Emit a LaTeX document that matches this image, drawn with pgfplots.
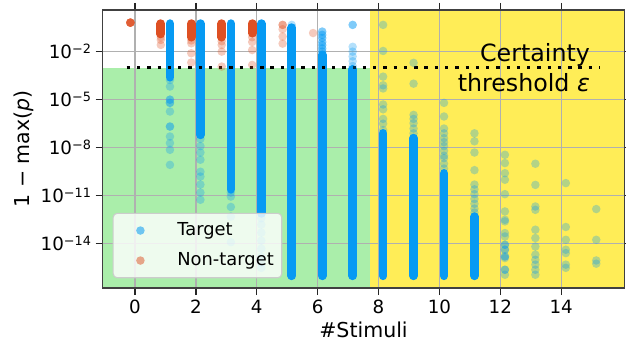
\documentclass[border=0pt]{standalone}
\usepackage{fontspec}
\setmainfont{DejaVu Sans}
\usepackage{pgfplots}
\pgfplotsset{compat=1.18}
\definecolor{azure}{RGB}{6,154,243}
\definecolor{ntorange}{RGB}{222,80,35}
\definecolor{bggreen}{RGB}{170,238,170}
\definecolor{bgyellow}{RGB}{255,237,87}
\definecolor{gridgray}{RGB}{176,176,176}
\newcommand{\tp}[1]{10\raisebox{3.75pt}{\fontsize{9.6}{11}\selectfont −#1}}
\begin{document}
\begin{tikzpicture}
\begin{axis}[
  set layers,
  width=391.2pt, height=208.5pt, scale only axis,
  xmin=-1.06, xmax=16.07,
  ymode=log, ymin=1.74e-17, ymax=3.98,
  xtick={0,2,4,6,8,10,12,14}, xticklabels={0,2,4,6,8,10,12,14},
  ytick={1e-14,1e-11,1e-8,1e-5,1e-2},
  yticklabels={\tp{14},\tp{11},\tp{8},\tp{5},\tp{2}},
  minor y tick num=0,
  grid=major, major grid style={gridgray, line width=1pt},
  tick align=outside, major tick length=5.25pt,
  tick style={black!85, line width=1pt},
  axis line style={black!75, line width=1.1pt},
  ticklabel style={font=\fontsize{13.7}{16}\selectfont},
  every axis x label/.style={at={(axis description cs:0.5,0)}, anchor=center, yshift=-31.5pt, font=\fontsize{15.4}{18}\selectfont},
  every axis y label/.style={at={(axis description cs:0,0.5)}, anchor=center, xshift=-59pt, rotate=90, font=\fontsize{15.4}{18}\selectfont},
  xlabel={\#Stimuli},
  ylabel={1 − max(\textit{p})},
  legend image code/.code={\path (-14pt,0pt) (27.3pt,0pt); \draw[#1] plot coordinates {(0pt,0pt)};},
  legend style={at={(axis description cs:0.0192,0.035)}, anchor=south west,
    draw=black!20, line width=0.8pt, fill=white, fill opacity=0.8, text opacity=1,
    rounded corners=3pt, font=\fontsize{13.4}{16}\selectfont,
    inner xsep=6pt, inner ysep=6.4pt,
    nodes={inner sep=0pt, text height=10pt, text depth=3pt},
    row sep=9.5pt},
  legend cell align=left,
]
% background regions
\addplot[draw=none, fill=bggreen, on layer=axis background, forget plot]
  coordinates {(-1.06,1.74e-17) (7.72,1.74e-17) (7.72,1e-3) (-1.06,1e-3)} -- cycle;
\addplot[draw=none, fill=bgyellow, on layer=axis background, forget plot]
  coordinates {(7.72,1.74e-17) (16.07,1.74e-17) (16.07,3.98) (7.72,3.98)} -- cycle;

\addlegendimage{only marks, mark=*, mark size=3.2pt, azure, mark options={draw opacity=0, fill=azure, fill opacity=0.55}}
\addlegendentry{Target}
\addlegendimage{only marks, mark=*, mark size=3.2pt, ntorange, mark options={draw opacity=0, fill=ntorange, fill opacity=0.5}}
\addlegendentry{Non-target\hspace{4pt}}

% dense stacks of target points
\pgfplotsset{tstack/.style={azure, line width=6.5pt, line cap=round, forget plot}}
\addplot[tstack] coordinates {(1.15,5.62e-1) (1.15,2.51e-4)};
\addplot[tstack] coordinates {(2.15,5.62e-1) (2.15,6.31e-8)};
\addplot[tstack] coordinates {(3.15,5.62e-1) (3.15,2.51e-11)};
\addplot[tstack] coordinates {(4.15,5.62e-1) (4.15,7.94e-13)};
\addplot[tstack] coordinates {(5.15,3.16e-1) (5.15,1e-16)};
\addplot[tstack] coordinates {(6.15,6.31e-3) (6.15,1e-16)};
\addplot[tstack] coordinates {(7.15,7.94e-4) (7.15,1e-16)};
\addplot[tstack] coordinates {(8.15,7.94e-8) (8.15,1e-16)};
\addplot[tstack] coordinates {(9.15,3.98e-8) (9.15,1e-16)};
\addplot[tstack] coordinates {(10.15,2.51e-10) (10.15,1e-16)};
\addplot[tstack] coordinates {(11.15,5.01e-13) (11.15,1e-16)};

% dense stacks of non-target points
\pgfplotsset{nstack/.style={ntorange, line width=6.5pt, line cap=round, forget plot}}
\addplot[nstack] coordinates {(0.85,5.62e-1) (0.85,1.26e-1)};
\addplot[nstack] coordinates {(1.85,5.62e-1) (1.85,7.94e-2)};
\addplot[nstack] coordinates {(2.85,5.62e-1) (2.85,7.94e-2)};
\addplot[nstack] coordinates {(3.85,5.62e-1) (3.85,1.41e-1)};

% sparse target points
\addplot[only marks, mark=*, mark size=3.2pt, azure, mark options={draw opacity=0, fill=azure, fill opacity=0.3}, forget plot] coordinates {
(1.15,1.7e-4) (1.15,6.6e-5) (1.15,1e-5) (1.15,1e-5) (1.15,6.31e-6) (1.15,6.31e-6) (1.15,1.82e-6)
(1.15,2.1e-7) (1.15,2.1e-7) (1.15,5.01e-8) (1.15,1.95e-8) (1.15,7.4e-9) (1.15,8.5e-10)
(2.15,3.55e-8) (2.15,1.26e-8) (2.15,5.01e-9) (2.15,1.78e-9) (2.15,3.16e-10) (2.15,1.58e-10)
(2.15,5.01e-11) (2.15,1.58e-11) (2.15,5.62e-12)
(3.15,1.58e-11) (3.15,8.91e-12) (3.15,2.0e-12) (3.15,5.01e-13) (3.15,1.26e-14)
(4.15,3.98e-13) (4.15,1.58e-13) (4.15,5.01e-14) (4.15,1.58e-14) (4.15,5.01e-15) (4.15,1.58e-15)
(4.15,6.31e-16) (4.15,3.16e-16)
(5.15,4.68e-1)
(6.15,1.78e-1) (6.15,1.78e-1) (6.15,1.12e-1) (6.15,1.12e-1) (6.15,7.08e-2) (6.15,7.08e-2)
(6.15,3.98e-2) (6.15,3.98e-2) (6.15,2.51e-2) (6.15,2.51e-2) (6.15,1.58e-2) (6.15,1.58e-2) (6.15,1e-2) (6.15,1e-2)
(7.15,4.68e-1) (7.15,4.68e-1) (7.15,2.0e-2) (7.15,1e-2) (7.15,5.01e-3) (7.15,2.51e-3) (7.15,1.26e-3)
(8.15,4.68e-1) (8.15,1.1e-2) (8.15,2.75e-4) (8.15,7.94e-5) (8.15,5.01e-5) (8.15,5.01e-6) (8.15,2.51e-6)
(8.15,6.31e-7) (8.15,3.16e-7) (8.15,1.26e-7)
(9.15,2.0e-3) (9.15,1e-4) (9.15,1.12e-6) (9.15,6.31e-7) (9.15,3.4e-7) (9.15,1.58e-7) (9.15,7.94e-8)
(10.15,6.31e-6) (10.15,8.91e-7) (10.15,1.58e-7) (10.15,7.94e-8) (10.15,3.98e-8) (10.15,2.24e-8)
(10.15,1.26e-8) (10.15,6.31e-9) (10.15,3.16e-9) (10.15,2.24e-9) (10.15,1e-9) (10.15,5.01e-10)
(11.15,7.94e-8) (11.15,2.51e-8) (11.15,5.01e-9) (11.15,3.98e-10) (11.15,5.01e-11) (11.15,2.51e-11)
(11.15,1.26e-11) (11.15,6.31e-12) (11.15,3.16e-12) (11.15,1.58e-12) (11.15,8.91e-13)
(12.15,3.63e-9) (12.15,1.1e-9) (12.15,2.57e-10) (12.15,1e-10) (12.15,1.26e-11) (12.15,1.05e-12)
(12.15,3.16e-13) (12.15,2.51e-13) (12.15,4.68e-14) (12.15,2.88e-14) (12.15,8.71e-15) (12.15,8.71e-15)
(12.15,4.27e-15) (12.15,4.27e-15) (12.15,1.62e-15) (12.15,1.62e-15) (12.15,1.29e-15)
(12.15,2.4e-16) (12.15,2.4e-16) (12.15,1.17e-16)
(13.15,1e-9) (13.15,4.79e-11) (13.15,2.14e-12) (13.15,1.32e-12) (13.15,7.59e-14) (13.15,2.29e-14)
(13.15,6.76e-15) (13.15,2.09e-15) (13.15,1e-15) (13.15,5.01e-16) (13.15,2.4e-16) (13.15,1.17e-16)
(14.15,6.17e-11) (14.15,1.12e-13) (14.15,1.78e-14) (14.15,4.27e-15) (14.15,2.63e-15) (14.15,5.01e-16) (14.15,3.16e-16)
(15.15,1.48e-12) (15.15,1.78e-14) (15.15,9.12e-16) (15.15,5.75e-16)
};

% sparse non-target points
\addplot[only marks, mark=*, mark size=3.2pt, ntorange, mark options={draw opacity=0, fill=ntorange, fill opacity=0.3}, forget plot] coordinates {
(-0.15,6.46e-1) (-0.15,6.46e-1) (-0.15,6.46e-1) (-0.15,6.46e-1) (-0.15,6.46e-1) (-0.15,6.46e-1) (-0.15,6.46e-1)
(0.85,7.94e-2) (0.85,5.37e-2) (0.85,2.63e-2)
(1.85,5.01e-2) (1.85,3.31e-2) (1.85,7.94e-3) (1.85,2.09e-3)
(2.85,4.47e-2) (2.85,2.63e-2) (2.85,1e-2) (2.85,1.17e-3)
(3.85,7.94e-2) (3.85,3.98e-2) (3.85,1.26e-2) (3.85,1.48e-3)
(4.85,4.68e-1) (4.85,4.68e-1) (4.85,2.51e-1) (4.85,8.71e-2) (4.85,3.16e-2)
(5.85,1.45e-1)
};

% certainty threshold
\addplot[black, line width=2.5pt, dash pattern=on 2.5pt off 5.2pt, forget plot]
  coordinates {(-0.27,1e-3) (15.27,1e-3)};
\node[anchor=east, align=right, inner sep=0pt, font=\fontsize{17.8}{23}\selectfont]
  at (axis cs:14.95,1e-3) {Certainty\\threshold \textit{ε}};
\end{axis}
\pgfresetboundingbox
\path[use as bounding box] ([xshift=-77pt,yshift=-40.5pt]current axis.south west) rectangle ([xshift=1.3pt,yshift=7.5pt]current axis.north east);
\end{tikzpicture}
\end{document}
